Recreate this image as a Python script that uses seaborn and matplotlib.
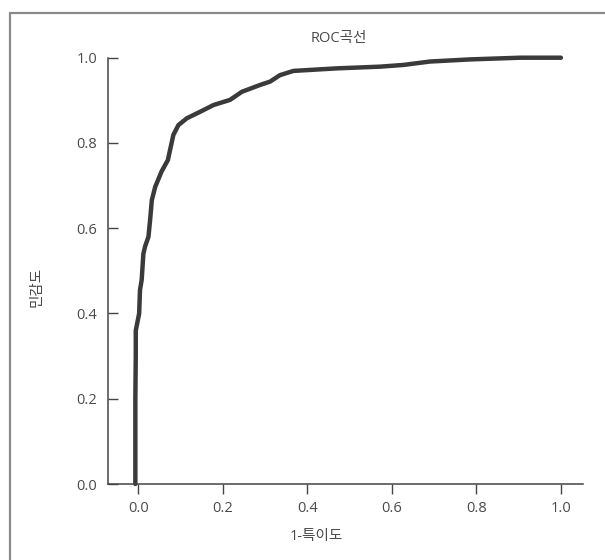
import matplotlib
matplotlib.use("Agg")
import matplotlib.pyplot as plt
import seaborn as sns
import pandas as pd
from matplotlib.lines import Line2D

# ROC curve points
fpr = [-0.007, -0.007, -0.006, -0.006, 0.002, 0.004, 0.008, 0.012, 0.016, 0.024, 0.028,
       0.032, 0.04, 0.055, 0.07, 0.075, 0.083, 0.095, 0.115, 0.146, 0.178, 0.217,
       0.245, 0.288, 0.312, 0.335, 0.367, 0.47, 0.572, 0.627, 0.69, 0.785, 0.904, 1.0]
tpr = [0.0, 0.2, 0.30, 0.36, 0.40, 0.455, 0.479, 0.54, 0.557, 0.58, 0.62,
       0.666, 0.697, 0.733, 0.76, 0.783, 0.819, 0.842, 0.858, 0.873, 0.889, 0.901,
       0.920, 0.936, 0.944, 0.959, 0.969, 0.975, 0.979, 0.983, 0.991, 0.996, 1.0, 1.0]
xticks = [0.0, 0.2, 0.4, 0.6, 0.8, 1.0]
yticks = [0.0, 0.2, 0.4, 0.6, 0.8, 1.0]

sns.set_style("white")
plt.rcParams['font.family'] = ['Open Sans', 'Noto Sans CJK KR', 'DejaVu Sans']
txt = '#4a4a4a'

df = pd.DataFrame({'fpr': fpr, 'tpr': tpr})

fig = plt.figure(figsize=(6.05, 5.6), dpi=100)
ax = fig.add_axes([108.3 / 605, 76 / 560, 475 / 605, 426.3 / 560])
sns.lineplot(data=df, x='fpr', y='tpr', sort=False, estimator=None, ax=ax,
             color='#3a3a3a', linewidth=3.2, clip_on=False,
             solid_joinstyle='round', solid_capstyle='round')

ax.set_xlim(-0.071, 1.053)
ax.set_ylim(0, 1)
ax.set_xticks(xticks)
ax.set_yticks(yticks)
ax.set_xticklabels([f'{v:.1f}' for v in xticks])
ax.set_yticklabels([f'{v:.1f}' for v in yticks])
ax.tick_params(axis='x', direction='out', length=7, width=1, color='#444444',
               labelsize=10.5, labelcolor=txt, pad=5, bottom=True)
ax.tick_params(axis='y', direction='in', length=7, width=1, color='#444444',
               labelsize=10.5, labelcolor=txt, pad=8, left=True)
for s in ['top', 'right']:
    ax.spines[s].set_visible(False)
for s in ['left', 'bottom']:
    ax.spines[s].set_color('#444444')
    ax.spines[s].set_linewidth(1.1)

ax.set_title('ROC곡선', fontsize=10.5, color=txt, x=0.486, pad=11)
ax.set_xlabel('1-특이도', fontsize=10.5, color=txt)
ax.set_ylabel('민감도', fontsize=10.5, color=txt)
ax.xaxis.set_label_coords(0.437, -0.105)
ax.yaxis.set_label_coords(-0.135, 0.462)

# frame around the figure (only left and top edges visible)
fig.add_artist(Line2D([9.5 / 605, 9.5 / 605], [0, 1 - 12.5 / 560], transform=fig.transFigure,
                      color='#8a8a8a', linewidth=1.6))
fig.add_artist(Line2D([9.5 / 605, 1], [1 - 12.5 / 560, 1 - 12.5 / 560], transform=fig.transFigure,
                      color='#8a8a8a', linewidth=1.6))

fig.savefig('out.png', dpi=100)
